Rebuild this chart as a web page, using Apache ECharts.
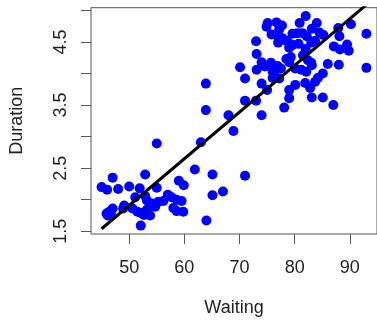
<!DOCTYPE html>
<html>
<head>
<meta charset="utf-8">
<script src="https://cdn.jsdelivr.net/npm/echarts@6/dist/echarts.min.js"></script>
<style>
html,body{margin:0;padding:0;background:#fff;}
#chart{width:377px;height:322px;}
</style>
</head>
<body>
<div id="chart"></div>
<script>
// Waiting time (min) and eruption duration (min)
const waiting = [
  82.0,75.1,76.7,74.9,77.7,77.2,80.9,84.0,83.1,84.5,85.2,87.9,90.2,88.1,93.0,75.8,76.9,77.8,78.5,79.6,
  80.5,81.4,82.2,77.0,79.0,79.6,83.7,83.0,73.0,79.0,87.1,88.2,89.5,89.8,80.7,82.0,81.5,82.4,83.0,73.1,
  74.0,75.7,76.9,78.5,79.3,79.0,70.1,73.1,74.6,76.0,77.5,80.1,81.2,82.1,83.1,86.0,88.0,93.0,85.1,84.2,
  83.7,76.3,76.0,77.2,71.0,74.0,80.1,81.9,82.8,79.0,63.9,75.0,71.0,73.0,79.0,83.1,85.1,87.0,63.9,68.0,
  78.1,74.0,68.9,63.0,
  61.9,65.1,71.0,67.0,65.1,64.0,59.0,59.9,57.0,58.6,59.5,58.0,58.6,59.8,52.1,55.0,47.0,52.9,45.0,46.0,
  48.0,50.0,51.9,51.1,52.9,53.2,55.0,55.3,56.2,54.1,53.2,53.8,47.0,46.4,45.9,46.1,46.7,49.1,48.9,50.6,
  51.5,52.1,52.7,54.7,57.7
];
const duration = [
  4.91,4.80,4.81,4.74,4.76,4.70,4.80,4.80,4.71,4.65,4.61,4.72,4.78,4.59,4.63,4.62,4.59,4.56,4.52,4.63,
  4.64,4.64,4.59,4.49,4.48,4.45,4.52,4.49,4.51,4.41,4.43,4.38,4.46,4.36,4.47,4.39,4.29,4.21,4.17,4.31,
  4.18,4.17,4.12,4.23,4.26,4.18,4.10,4.06,4.11,4.03,4.08,4.08,4.06,4.03,4.13,4.15,4.14,4.09,4.00,3.93,
  3.87,3.99,3.93,3.92,3.92,3.84,3.82,3.85,3.77,3.74,3.84,3.74,3.57,3.57,3.61,3.62,3.62,3.50,3.42,3.34,
  3.46,3.34,3.09,2.91,
  2.48,2.40,2.38,2.13,2.07,1.67,2.30,2.23,2.08,2.00,1.98,1.87,1.82,1.81,1.59,2.89,2.35,2.40,2.20,2.16,
  2.17,2.21,2.18,2.04,2.06,1.99,2.19,1.97,1.98,1.94,1.84,1.75,1.86,1.81,1.78,1.75,1.79,1.91,1.86,1.86,
  1.81,1.79,1.76,1.89,2.04
];
// Fitted regression line end points
const fitWaiting = [45.0, 93.0];
const fitDuration = [1.54, 5.09];

const xTicks = [50, 60, 70, 80, 90];
const yTicks = [1.5, 2.0, 2.5, 3.0, 3.5, 4.0, 4.5, 5.0];
const yLabels = [1.5, 2.5, 3.5, 4.5];

const points = waiting.map((w, i) => [w, duration[i]]);
const fitLine = fitWaiting.map((w, i) => [w, fitDuration[i]]);

const FONT = '"Liberation Sans", Arial, Helvetica, sans-serif';
const chart = echarts.init(document.getElementById('chart'), null, {renderer: 'canvas'});
chart.setOption({
  animation: false,
  backgroundColor: '#ffffff',
  grid: {
    left: 88, top: 7.7, width: 292, height: 230,
    show: true, borderColor: '#555', borderWidth: 1, containLabel: false
  },
  xAxis: {
    type: 'value', min: 43.08, max: 94.92,
    name: 'Waiting', nameLocation: 'middle', nameGap: 65,
    nameTextStyle: {fontFamily: FONT, fontSize: 18, color: '#222'},
    axisLine: {show: false},
    splitLine: {show: false},
    axisTick: {show: true, length: 10, customValues: xTicks, lineStyle: {color: '#555', width: 1}},
    axisLabel: {customValues: xTicks, margin: 25, fontFamily: FONT, fontSize: 18, color: '#222',
      formatter: v => String(v)}
  },
  yAxis: {
    type: 'value', min: 1.457, max: 5.043,
    name: 'Duration', nameLocation: 'middle', nameGap: 65,
    nameTextStyle: {fontFamily: FONT, fontSize: 18, color: '#222'},
    axisLine: {show: false},
    splitLine: {show: false},
    axisTick: {show: true, length: 10, customValues: yTicks, lineStyle: {color: '#555', width: 1}},
    axisLabel: {customValues: yLabels, rotate: 90, margin: 21, fontFamily: FONT, fontSize: 18, color: '#222',
      formatter: v => v.toFixed(1)}
  },
  series: [
    {
      type: 'scatter', data: points, symbol: 'circle', symbolSize: 10,
      itemStyle: {color: '#0000ff', opacity: 1}, silent: true, z: 2
    },
    {
      type: 'line', data: fitLine, symbol: 'none', clip: true,
      lineStyle: {color: '#000', width: 3}, silent: true, z: 3
    }
  ]
});
</script>
</body>
</html>
